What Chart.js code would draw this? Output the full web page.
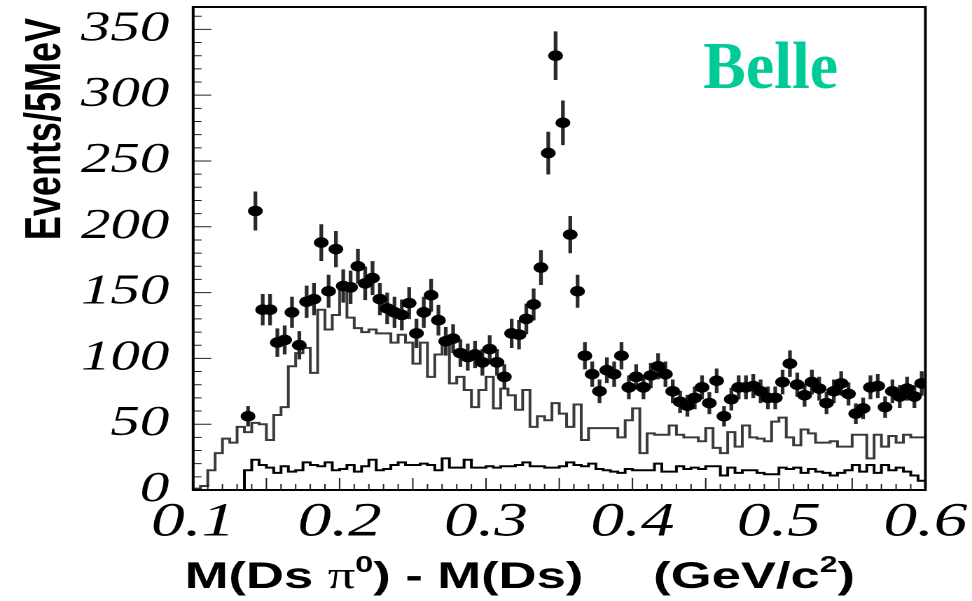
<!DOCTYPE html>
<html>
<head>
<meta charset="utf-8">
<script src="https://cdn.jsdelivr.net/npm/chart.js@4.4.1/dist/chart.umd.min.js"></script>
<style>
  html, body { margin: 0; padding: 0; background: #fff; overflow: hidden; }
  /* the plot is drawn narrow and stretched sideways, like the original figure */
  #wrap { width: 694px; height: 601px; transform: scaleX(1.40058); transform-origin: 0 0; }
</style>
</head>
<body>
<div id="wrap"><canvas id="chart"></canvas></div>
<script>
// 5 MeV bins from 0.100 to 0.600 GeV/c^2
const binStart = 0.1
const binWidth = 0.005

// broad MC histogram (upper line), one value per bin
const mcBroad = [
   1,   3,  15,  28,  39,  36,  48,  44,  51,  50,
  38,  57,  63,  94, 104, 108,  89, 137, 122, 133,
 155, 131, 123, 120, 122, 119, 119, 112, 118, 112,
  96, 112,  86, 103, 110,  81,  86,  76,  63,  76,
  86,  62,  77,  72,  61,  76,  48,  56,  53,  66,
  58,  48,  65,  38,  47,  47,  47,  47,  40,  53,
  62,  28,  43,  42,  42,  49,  42,  40,  40,  37,
  47,  32,  28,  44,  33,  49,  40,  39,  37,  52,
  55,  40,  34,  46,  43,  36,  36,  37,  33,  33,
  42,  42,  24,  42,  33,  41,  36,  42,  40,  40
]

// flat background histogram (lower line)
const mcFlat = [
   0,   0,   0,   0,   0,   0,   0,  15,  23,  19,
  17,  13,  18,  14,  15,  21,  19,  18,  21,  15,
  16,  19,  14,  18,  23,  15,  16,  19,  21,  19,
  19,  20,  19,  15,  24,  17,  17,  23,  17,  17,
  18,  17,  18,  18,  19,  21,  18,  18,  17,  17,
  18,  21,  19,  18,  20,  16,  15,  14,  13,  16,
  15,  15,  15,  20,  14,  14,  18,  16,  17,  16,
  18,  18,  11,  17,  13,  15,  15,  13,  12,  12,
  17,  16,  17,  13,  16,  14,  13,  11,  13,  15,
  19,  14,  19,  13,  19,  15,  17,  14,  11,   7
]

// data: events per bin starting at bin 7, and their errors
const dataFirstBin = 7
const dataCounts = [
  56, 212, 137, 137, 112, 114, 135, 110, 143, 145,
 188, 151, 183, 155, 154, 170, 157, 161, 145, 138,
 135, 133, 142, 119, 135, 148, 129, 113, 115, 104,
 101, 103,  97, 107,  97,  86, 119, 118, 130, 141,
 169, 256, 330, 279, 194, 151, 102,  88,  75,  91,
  88, 102,  78,  86,  78,  87,  94,  88,  75,  67,
  64,  70,  78,  66,  83,  56,  69,  78,  78,  79,
  75,  70,  70,  82,  96,  80,  72,  82,  77,  66,
  75,  81,  73,  58,  62,  78,  79,  63,  75,  71,
  77,  71,  81
]
const dataErrors = [
  7.5, 14.6, 11.7, 11.7, 10.6, 10.7, 11.6, 10.5, 12.0, 12.0,
 13.7, 12.3, 13.5, 12.4, 12.4, 13.0, 12.5, 12.7, 12.0, 11.7,
 11.6, 11.5, 11.9, 10.9, 11.6, 12.2, 11.4, 10.6, 10.7, 10.2,
 10.0, 10.1,  9.8, 10.3,  9.8,  9.3, 10.9, 10.9, 11.4, 11.9,
 13.0, 16.0, 18.2, 16.7, 13.9, 12.3, 10.1,  9.4,  8.7,  9.5,
  9.4, 10.1,  8.8,  9.3,  8.8,  9.3,  9.7,  9.4,  8.7,  8.2,
  8.0,  8.4,  8.8,  8.1,  9.1,  7.5,  8.3,  8.8,  8.8,  8.9,
  8.7,  8.4,  8.4,  9.1,  9.8,  8.9,  8.5,  9.1,  8.8,  8.1,
  8.7,  9.0,  8.5,  7.6,  7.9,  8.8,  8.9,  7.9,  8.7,  8.4,
  8.8,  8.4,  9.0
]

const xTicks = [0.1, 0.2, 0.3, 0.4, 0.5, 0.6]
const yTicks = [0, 50, 100, 150, 200, 250, 300, 350]

function stepPoints(values) {
  const pts = values.map((v, i) => ({ x: binStart + i * binWidth, y: v }))
  pts.push({ x: binStart + values.length * binWidth, y: values[values.length - 1] })
  return pts
}

const points = dataCounts.map((n, k) => ({ x: binStart + (dataFirstBin + k + 0.5) * binWidth, y: n }))
const errBars = dataCounts.map((n, k) => ({
  x: binStart + (dataFirstBin + k + 0.5) * binWidth,
  y: [n - dataErrors[k], n + dataErrors[k]]
}))

// frame and inward tick marks
const frame = {
  id: 'frame',
  afterDatasetsDraw(chart) {
    const { ctx, chartArea: a, scales: { x, y } } = chart
    ctx.save()
    ctx.strokeStyle = '#222'
    ctx.lineWidth = 1
    ctx.beginPath()
    for (let v = 0; v <= 360; v += 10) {
      const py = y.getPixelForValue(v)
      ctx.moveTo(a.left, py)
      ctx.lineTo(a.left + (v % 50 === 0 ? 13 : 6), py)
    }
    for (let k = 0; k <= 50; k++) {
      const px = x.getPixelForValue(0.1 + k * 0.01)
      ctx.moveTo(px, a.bottom)
      ctx.lineTo(px, a.bottom - (k % 5 === 0 ? 12 : 6))
    }
    ctx.stroke()
    ctx.strokeStyle = '#000'
    ctx.lineWidth = 2
    ctx.strokeRect(a.left, a.top, a.right - a.left, a.bottom - a.top)
    ctx.restore()
  }
}

// axis titles and the experiment label
const titles = {
  id: 'titles',
  afterDraw(chart) {
    const { ctx, chartArea: a } = chart
    ctx.save()
    ctx.fillStyle = '#000'

    // y title, reading upwards
    ctx.save()
    ctx.translate(43, a.top + 11)
    ctx.rotate(-Math.PI / 2)
    ctx.font = 'bold 36px "Liberation Sans"'
    ctx.textAlign = 'right'
    ctx.textBaseline = 'alphabetic'
    ctx.fillText('Events/5MeV', 0, 0)
    ctx.restore()

    // x title with superscripts
    const base = 588
    let cx = a.left - 6
    ctx.textAlign = 'left'
    ctx.textBaseline = 'alphabetic'
    const put = (txt, font, dy) => {
      ctx.font = font
      ctx.fillText(txt, cx, base + dy)
      cx += ctx.measureText(txt).width
    }
    const big = 'bold 37.5px "Liberation Sans"'
    const sup = 'bold 23px "Liberation Sans"'
    put('M(Ds ', big, 0)
    put('\u03c0', '39px "Liberation Serif"', 0)
    put('0', sup, -16)
    put(') - M(Ds)', big, 0)
    cx += 50
    put('(GeV/c', big, 0)
    put('2', sup, -16)
    put(')', big, 0)

    // experiment label, kept at natural proportions
    ctx.save()
    ctx.translate(502, 88)
    ctx.scale(0.955 / 1.40058, 1)
    ctx.font = 'bold 67px "Liberation Serif"'
    ctx.fillStyle = 'rgb(0, 202, 152)'
    ctx.fillText('Belle', 0, 0)
    ctx.restore()

    ctx.restore()
  }
}

const ctx = document.getElementById('chart').getContext('2d')
const myChart = new Chart(ctx, {
  type: 'line',
  data: {
    datasets: [
      {
        type: 'scatter',
        data: points,
        backgroundColor: '#000',
        borderWidth: 0,
        pointRadius: 5.3,
        pointHoverRadius: 5.3,
        order: 0
      },
      {
        type: 'bar',
        data: errBars,
        backgroundColor: '#2a2a2a',
        borderWidth: 0,
        barThickness: 2,
        grouped: false,
        order: 1
      },
      {
        type: 'line',
        data: stepPoints(mcBroad),
        stepped: 'before',
        borderColor: '#3a3a3a',
        borderWidth: 2,
        pointRadius: 0,
        fill: false,
        order: 2
      },
      {
        type: 'line',
        data: stepPoints(mcFlat),
        stepped: 'before',
        borderColor: '#000',
        borderWidth: 2,
        pointRadius: 0,
        fill: false,
        order: 3
      }
    ]
  },
  options: {
    responsive: true,
    maintainAspectRatio: false,
    devicePixelRatio: 2,
    animation: false,
    layout: { padding: { top: 7, right: 33.3, bottom: 0, left: 0 } },
    plugins: { legend: { display: false }, tooltip: { enabled: false } },
    scales: {
      x: {
        type: 'linear',
        min: 0.1,
        max: 0.6,
        offset: false,
        grid: { display: false, drawTicks: false, offset: false },
        border: { display: false },
        afterBuildTicks: s => { s.ticks = xTicks.map(v => ({ value: v })) },
        ticks: {
          autoSkip: false,
          maxRotation: 0,
          padding: 4,
          color: '#000',
          font: { family: 'Liberation Serif', style: 'italic', size: 48 },
          callback: v => v.toFixed(1)
        },
        afterFit: s => { s.height = 111; s.paddingLeft = 0; s.paddingRight = 0 }
      },
      y: {
        type: 'linear',
        min: 0,
        max: 367,
        grid: { display: false, drawTicks: false },
        border: { display: false },
        afterBuildTicks: s => { s.ticks = yTicks.map(v => ({ value: v })) },
        ticks: {
          autoSkip: false,
          padding: 17,
          color: '#000',
          font: { family: 'Liberation Serif', style: 'italic', size: 42 }
        },
        afterFit: s => { s.width = 137.9; s.paddingTop = 0; s.paddingBottom = 0 }
      }
    }
  },
  plugins: [frame, titles]
})
</script>
</body>
</html>
